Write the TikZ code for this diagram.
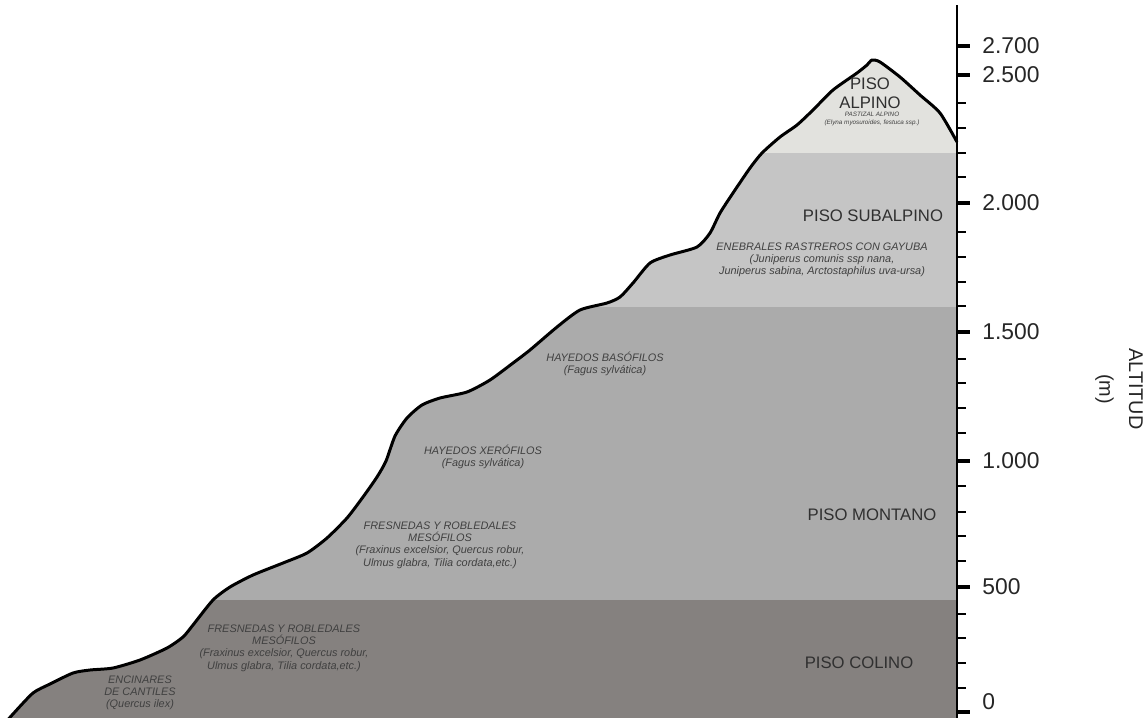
\documentclass[tikz,border=0pt]{standalone}
\usepackage{fontspec}
\setmainfont{Liberation Sans}
\usepackage{tikz}

\definecolor{alpino}{HTML}{E2E2DE}
\definecolor{subalpino}{HTML}{C5C5C5}
\definecolor{montano}{HTML}{ABABAB}
\definecolor{colino}{HTML}{85817F}
\definecolor{txtpiso}{HTML}{303030}
\definecolor{txtesp}{HTML}{404040}

% perfil del terreno (coordenadas en pixeles)
\newcommand{\perfil}{plot[smooth,tension=0.4] coordinates {
  (6,722) (13,714) (33,693) (50,684) (73,673) (90,670) (113,668) (140,660)
  (167,648) (183,637) (193,625) (213,600) (230,587) (253,575) (283,563)
  (307,553) (327,538) (347,518) (363,497) (377,477) (386,461) (395,436)
  (407,418) (422,405) (440,398) (467,392) (490,380) (513,363) (530,350)
  (557,327) (580,310) (607,303) (620,297) (633,283) (650,263) (670,255)
  (697,247) (710,233) (720,213) (733,193) (750,168) (762,153) (780,137)
  (797,125) (813,110) (833,90) (857,73) (867,65) (872,60) (880,62)
  (900,77) (920,95) (940,113) (957,142)}}

\tikzset{
  piso/.style={text=txtpiso, font=\fontsize{9.5}{10.8}\selectfont, align=center, inner sep=0pt},
  especie/.style={text=txtesp, font=\fontsize{6.2}{7}\selectfont\itshape, align=center, inner sep=0pt},
  diminuta/.style={text=txtesp, font=\fontsize{3.6}{4.2}\selectfont\itshape, align=center, inner sep=0pt},
  cota/.style={anchor=west, text=black!85, font=\fontsize{13}{15}\selectfont, inner sep=0pt},
}

\begin{document}
\begin{tikzpicture}[x=0.02cm, y=-0.02cm]
			\useasboundingbox (0,0) rectangle (1146,717);
			% pisos de vegetacion
			\begin{scope}
				\clip \perfil -- (957,730) -- (0,730) -- cycle;
				\fill[alpino] (0,40) rectangle (957,153);
				\fill[subalpino] (0,153) rectangle (957,307);
				\fill[montano] (0,307) rectangle (957,600);
				\fill[colino] (0,600) rectangle (957,730);
			\end{scope}
			\draw[line width=1.7pt, line join=round] \perfil;
			% eje de altitudes
			\draw[line width=1.1pt] (957,5) -- (957,722);
			\foreach \y in {103,128,153,177,232,257,282,306,359,383,408,433,486,512,536,561,614,638,663,688}
				\draw[line width=0.8pt] (957,\y) -- (966,\y);
			\foreach \y/\t/\n/\p in {46/2.700/c2700/46, 75/2.500/c2500/75, 203/2.000/c2000/203, 332/1.500/c1500/332, 461/1.000/c1000/461, 587/500/c500/587, 712/0/c0/702} {
				\draw[line width=1.8pt] (957,\y) -- (970,\y);
				\node[cota] (\n) at (982,\p) {\t};
			}
			\node[text=black!85, font=\fontsize{11.3}{17}\selectfont, align=center, rotate=-90] (altitud) at (1119,389) {ALTITUD\\(m)};
			% rotulos de los pisos
			\node[piso] (alpino) at (870,93) {PISO\\ALPINO};
			\node[diminuta] (pastizal) at (872,119) {PASTIZAL ALPINO\\(Elyna myosuroides, festuca ssp.)};
			\node[piso] (subalpino) at (873,216) {PISO SUBALPINO};
			\node[especie] (enebrales) at (822,260) {ENEBRALES RASTREROS CON GAYUBA\\(Juniperus comunis ssp nana,\\Juniperus sabina, Arctostaphilus uva-ursa)};
			\node[especie] (basofilos) at (605,364) {HAYEDOS BASÓFILOS\\(Fagus sylvática)};
			\node[especie] (xerofilos) at (483,457) {HAYEDOS XERÓFILOS\\(Fagus sylvática)};
			\node[piso] (montano) at (872,515) {PISO MONTANO};
			\node[especie] (fresnedasm) at (440,545) {FRESNEDAS Y ROBLEDALES\\MESÓFILOS\\(Fraxinus excelsior, Quercus robur,\\Ulmus glabra, Tilia cordata,etc.)};
			\node[especie] (fresnedasc) at (284,648) {FRESNEDAS Y ROBLEDALES\\MESÓFILOS\\(Fraxinus excelsior, Quercus robur,\\Ulmus glabra, Tilia cordata,etc.)};
			\node[piso] (colino) at (859,663) {PISO COLINO};
			\node[especie] (encinares) at (140,693) {ENCINARES\\DE CANTILES\\(Quercus ilex)};
		\end{tikzpicture}
\end{document}
